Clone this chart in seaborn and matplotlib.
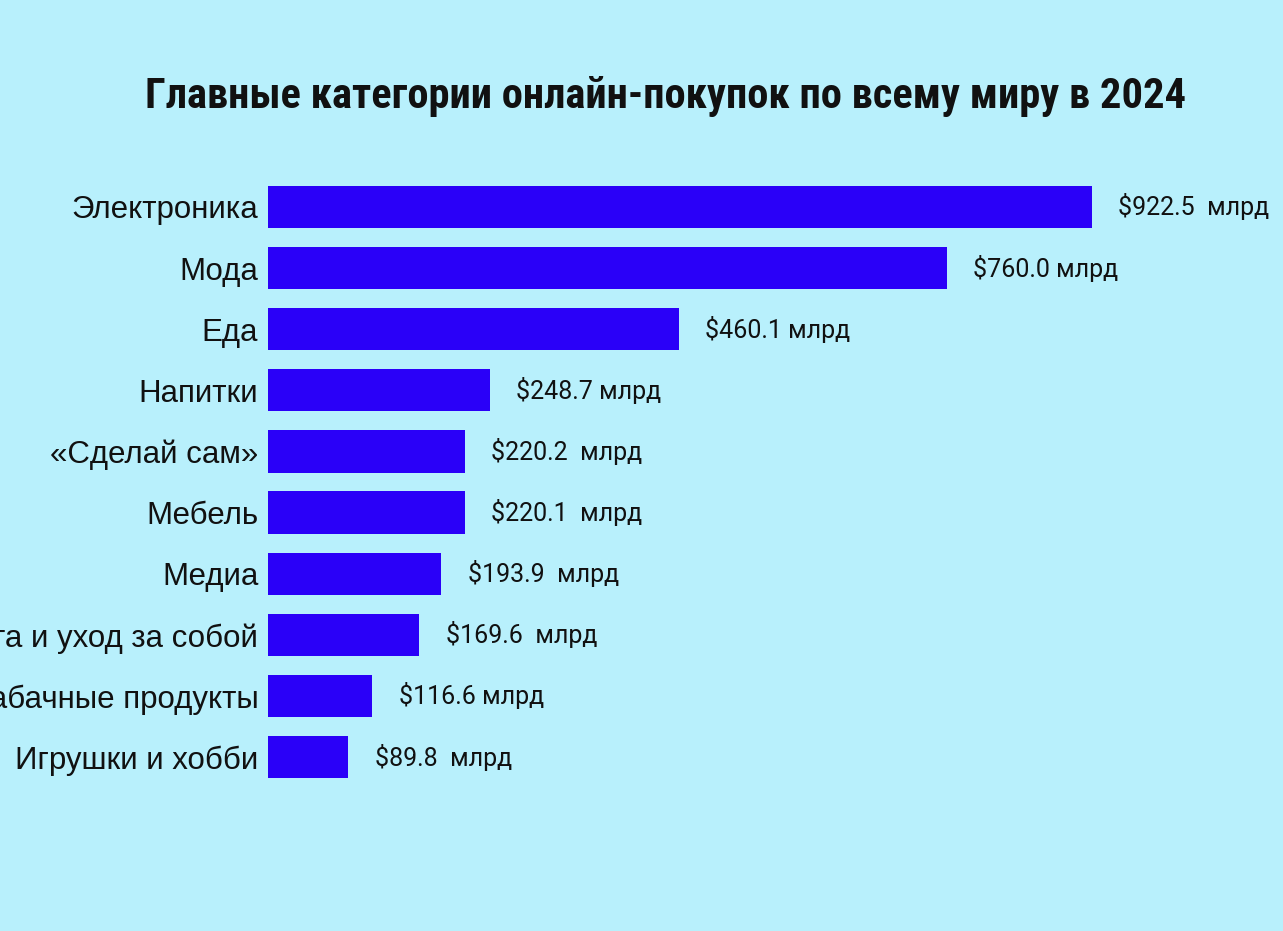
import matplotlib
matplotlib.use("Agg")
import matplotlib.pyplot as plt
import seaborn as sns
import pandas as pd

# ── DATA ──────────────────────────────────────────────────────────────────────
CATEGORIES = ["Электроника", "Мода", "Еда", "Напитки", "«Сделай сам»",
              "Мебель", "Медиа", "Красота и уход за собой",
              "Табачные продукты", "Игрушки и хобби"]
VALUES     = [922.5, 760.0, 460.1, 248.7, 220.2, 220.1, 193.9, 169.6, 116.6, 89.8]
VALUE_TEXT = ["$922.5  млрд", "$760.0 млрд", "$460.1 млрд", "$248.7 млрд",
              "$220.2  млрд", "$220.1  млрд", "$193.9  млрд", "$169.6  млрд",
              "$116.6 млрд", "$89.8  млрд"]
TITLE = "Главные категории онлайн-покупок по всему миру в 2024"

BG   = "#b8f0fc"
BLUE = "#2a00f8"

sns.set_theme(style="white")
plt.rcParams["font.family"] = ["Liberation Sans", "DejaVu Sans"]

df = pd.DataFrame({"category": CATEGORIES, "value": VALUES})

fig = plt.figure(figsize=(12.83, 9.31), dpi=100, facecolor=BG)
ax = fig.add_axes([0.2089, 0.154, 0.696, 0.6565])
ax.set_facecolor(BG)

sns.barplot(data=df, x="value", y="category", color=BLUE, width=0.69,
            saturation=1, edgecolor="none", ax=ax)

ax.set_xlim(0, 1000)
ax.set_ylim(9.5, -0.5)
ax.set_xlabel("")
ax.set_ylabel("")
ax.set_xticks([])
for s in ax.spines.values():
    s.set_visible(False)
# long labels run past the left edge, as in the original graphic
ax.tick_params(axis="y", length=0, pad=7, labelsize=22.5, labelcolor="#111111")

# value labels to the right of each bar
for i, (v, t) in enumerate(zip(VALUES, VALUE_TEXT)):
    ax.annotate(t, xy=(v, i), xytext=(19, 0), textcoords="offset points",
                va="center", ha="left", fontsize=18, color="#111111",
                family=["Roboto", "DejaVu Sans"])

fig.text(0.519, 0.896, TITLE, ha="center", va="center", fontsize=30.6,
         fontweight="bold", color="#111111",
         family=["Roboto Condensed", "Liberation Sans", "DejaVu Sans"])

fig.savefig("out.png", dpi=100, facecolor=BG)
